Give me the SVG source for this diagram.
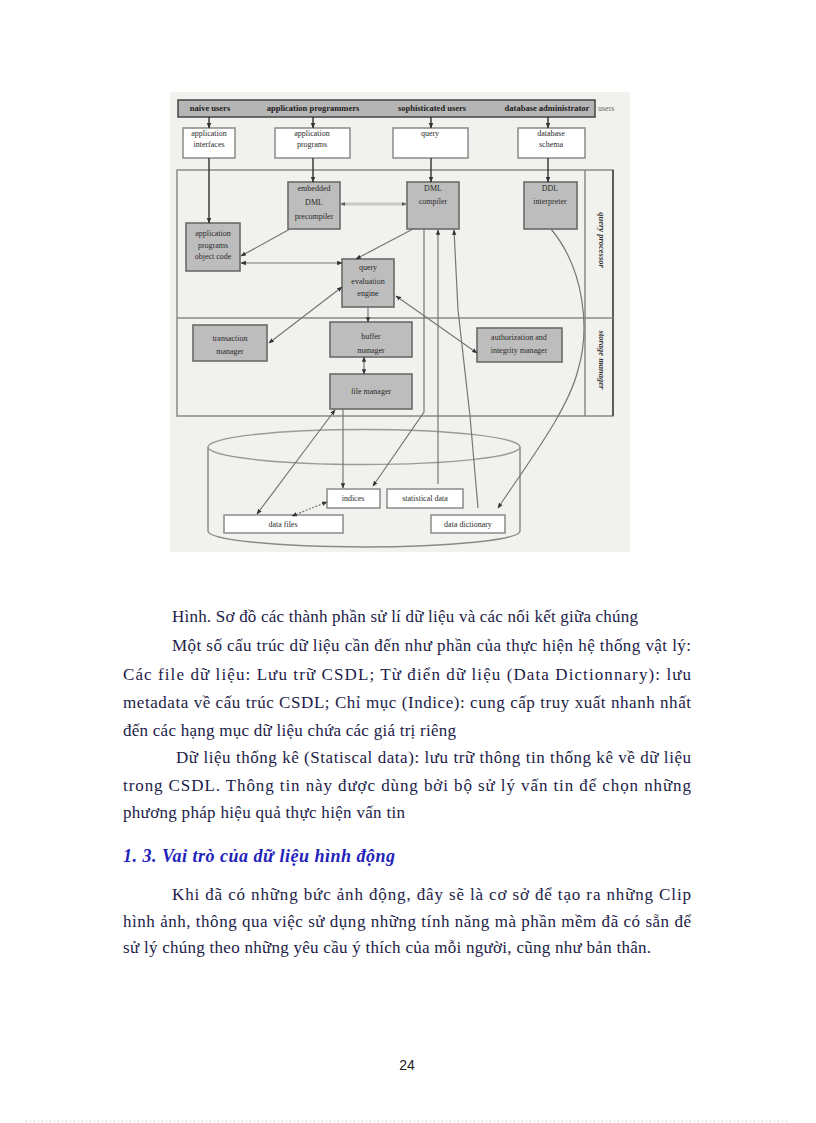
<svg xmlns="http://www.w3.org/2000/svg" width="816" height="1123" viewBox="0 0 816 1123">
<style>
.lbl{font-family:"Liberation Serif",serif;font-size:8px;fill:#2a2a2a;text-anchor:middle}
.bar{font-family:"Liberation Serif",serif;font-size:8.5px;font-weight:bold;fill:#222;text-anchor:middle}
.side{font-family:"Liberation Serif",serif;font-size:8.5px;font-weight:bold;font-style:italic;fill:#333;text-anchor:middle}
.wbox{fill:#ffffff;stroke:#8a8a8a;stroke-width:1.5}
.gbox{fill:#bdbdbd;stroke:#6a6a6a;stroke-width:1.6}
.dk{fill:none;stroke:#222;stroke-width:1.3}
.cn{fill:none;stroke:#777;stroke-width:1.2}
.body{font-family:"Liberation Serif","Times New Roman",serif;font-size:17px;fill:#1c1c48}
.head{font-family:"Liberation Serif","Times New Roman",serif;font-size:18px;font-weight:bold;font-style:italic;fill:#2222bb}
</style>
<defs>
<marker id="ah" viewBox="0 0 10 10" refX="9" refY="5" markerWidth="4.5" markerHeight="4.5" orient="auto-start-reverse"><path d="M0,1 L10,5 L0,9 z" fill="#333"/></marker>
<marker id="sm" viewBox="0 0 10 10" refX="9" refY="5" markerWidth="1.6" markerHeight="1.6" orient="auto-start-reverse"><path d="M0,1 L10,5 L0,9 z" fill="#555"/></marker>
</defs>
<rect x="0" y="0" width="816" height="1123" fill="#ffffff"/>
<rect x="170" y="92" width="460" height="460" fill="#f1f2ee"/>

<g id="users-bar">
<rect x="178" y="100" width="417" height="17" fill="#b5b5b5" stroke="#444" stroke-width="1.5"/>
<text class="bar" x="210" y="111">naive users</text>
<text class="bar" x="313" y="111">application programmers</text>
<text class="bar" x="432" y="111">sophisticated users</text>
<text class="bar" x="547" y="111">database administrator</text>
<text x="598" y="111" style="font-family:'Liberation Serif',serif;font-size:8px;fill:#666">users</text>
</g>

<g id="app-interfaces"><rect class="wbox" x="183" y="128" width="52" height="30"/><text class="lbl" x="209" y="136">application</text><text class="lbl" x="209" y="147">interfaces</text></g>
<g id="app-programs"><rect class="wbox" x="275" y="128" width="75" height="30"/><text class="lbl" x="312" y="136">application</text><text class="lbl" x="312" y="147">programs</text></g>
<g id="query"><rect class="wbox" x="393" y="128" width="75" height="30"/><text class="lbl" x="430" y="136">query</text></g>
<g id="db-schema"><rect class="wbox" x="518" y="128" width="67" height="30"/><text class="lbl" x="551" y="136">database</text><text class="lbl" x="551" y="147">schema</text></g>

<g id="frame">
<rect x="177" y="170" width="436" height="246" fill="none" stroke="#8a8a8a" stroke-width="1.5"/>
<line x1="613" y1="170" x2="613" y2="416" stroke="#555" stroke-width="1.8"/>
<line x1="585" y1="170" x2="585" y2="416" stroke="#8a8a8a" stroke-width="1.5"/>
<line x1="177" y1="318" x2="613" y2="318" stroke="#8a8a8a" stroke-width="1.5"/>
<text class="side" transform="translate(599,240) rotate(90)">query processor</text>
<text class="side" transform="translate(599,360) rotate(90)">storage manager</text>
</g>

<g id="embedded-dml"><rect class="gbox" x="288" y="182" width="52" height="47"/><text class="lbl" x="314" y="191">embedded</text><text class="lbl" x="314" y="205">DML</text><text class="lbl" x="314" y="219">precompiler</text></g>
<g id="dml-compiler"><rect class="gbox" x="407" y="182" width="52" height="47"/><text class="lbl" x="433" y="191">DML</text><text class="lbl" x="433" y="204">compiler</text></g>
<g id="ddl-interpreter"><rect class="gbox" x="524" y="182" width="53" height="47"/><text class="lbl" x="550" y="191">DDL</text><text class="lbl" x="550" y="204">interpreter</text></g>
<g id="object-code"><rect class="gbox" x="186" y="223" width="54" height="48"/><text class="lbl" x="213" y="236">application</text><text class="lbl" x="213" y="248">programs</text><text class="lbl" x="213" y="259">object code</text></g>
<g id="query-eval"><rect class="gbox" x="342" y="259" width="52" height="48"/><text class="lbl" x="368" y="270">query</text><text class="lbl" x="368" y="284">evaluation</text><text class="lbl" x="368" y="296">engine</text></g>
<g id="transaction-manager"><rect class="gbox" x="193" y="325" width="74" height="36"/><text class="lbl" x="230" y="341">transaction</text><text class="lbl" x="230" y="354">manager</text></g>
<g id="buffer-manager"><rect class="gbox" x="330" y="322" width="82" height="35"/><text class="lbl" x="371" y="339">buffer</text><text class="lbl" x="371" y="353">manager</text></g>
<g id="auth-manager"><rect class="gbox" x="477" y="328" width="85" height="34"/><text class="lbl" x="519" y="340">authorization and</text><text class="lbl" x="519" y="353">integrity manager</text></g>
<g id="file-manager"><rect class="gbox" x="330" y="374" width="82" height="35"/><text class="lbl" x="371" y="394">file manager</text></g>

<g id="database">
<path d="M208,447 V531 A156,16 0 0 0 520,531 V447" fill="none" stroke="#8a8a8a" stroke-width="1.5"/>
<ellipse cx="364" cy="447" rx="156" ry="17.5" fill="none" stroke="#9a9a9a" stroke-width="1.5"/>
</g>
<g id="indices"><rect class="wbox" x="327" y="489" width="53" height="19"/><text class="lbl" x="353" y="501">indices</text></g>
<g id="statistical-data"><rect class="wbox" x="387" y="489" width="76" height="19"/><text class="lbl" x="425" y="501">statistical data</text></g>
<g id="data-files"><rect class="wbox" x="224" y="515" width="119" height="18"/><text class="lbl" x="283" y="527">data files</text></g>
<g id="data-dictionary"><rect class="wbox" x="431" y="515" width="74" height="18"/><text class="lbl" x="468" y="527">data dictionary</text></g>

<g id="connectors">
<path class="dk" d="M209,117 V128" marker-end="url(#ah)"/>
<path class="dk" d="M313,117 V128" marker-end="url(#ah)"/>
<path class="dk" d="M431,117 V128" marker-end="url(#ah)"/>
<path class="dk" d="M548,117 V128" marker-end="url(#ah)"/>
<path class="dk" d="M209,158 V223" marker-end="url(#ah)"/>
<path class="dk" d="M313,158 V182" marker-end="url(#ah)"/>
<path class="dk" d="M431,158 V182" marker-end="url(#ah)"/>
<path class="dk" d="M548,158 V182" marker-end="url(#ah)"/>
<path d="M341,204 H406" fill="none" stroke="#c8c8c8" stroke-width="3" marker-start="url(#sm)" marker-end="url(#sm)"/>
<path class="cn" d="M290,229 L241,256" marker-end="url(#ah)"/>
<path class="cn" d="M413,229 L356,259" marker-end="url(#ah)"/>
<path class="cn" d="M241,263 H342" marker-start="url(#ah)" marker-end="url(#ah)"/>
<path class="cn" d="M342,287 L269,343" marker-start="url(#ah)" marker-end="url(#ah)"/>
<path class="cn" d="M368,307 V322" marker-end="url(#ah)"/>
<path class="cn" d="M364,357 V374" marker-start="url(#ah)" marker-end="url(#ah)"/>
<path class="cn" d="M396,296 L477,353" marker-start="url(#ah)" marker-end="url(#ah)"/>
<path class="cn" d="M335,410 L257,514" marker-start="url(#ah)" marker-end="url(#ah)"/>
<path class="cn" d="M343,409 V488" marker-end="url(#ah)"/>
<path class="cn" d="M327,502 L292,516" stroke-dasharray="2,1.5" marker-start="url(#ah)" marker-end="url(#ah)"/>
<path class="cn" d="M424,229 V412 L373,486" marker-end="url(#ah)"/>
<path class="cn" d="M438,484 V230" marker-end="url(#ah)"/>
<path class="cn" d="M478,508 L470,416 L458,310 L454,230" marker-end="url(#ah)"/>
<path class="cn" d="M551,229 C585,270 590,330 578,370 C568,410 530,460 498,508" marker-end="url(#ah)"/>
</g>

<g id="page-text">
<text class="body" x="172" y="622" textLength="466" lengthAdjust="spacing">Hình. Sơ đồ các thành phần sử lí dữ liệu và các nối kết giữa chúng</text>
<text class="body" x="172" y="651" textLength="519" lengthAdjust="spacing">Một số cấu trúc dữ liệu cần đến như phần của thực hiện hệ thống vật lý:</text>
<text class="body" x="123" y="680" textLength="568" lengthAdjust="spacing">Các file dữ liệu: Lưu trữ CSDL; Từ điển dữ liệu (Data Dictionnary): lưu</text>
<text class="body" x="123" y="708" textLength="568" lengthAdjust="spacing">metadata về cấu trúc CSDL; Chỉ mục (Indice): cung cấp truy xuất nhanh nhất</text>
<text class="body" x="123" y="736" textLength="333" lengthAdjust="spacing">đến các hạng mục dữ liệu chứa các giá trị riêng</text>
<text class="body" x="176" y="763" textLength="515" lengthAdjust="spacing">Dữ liệu thống kê (Statiscal data): lưu trữ thông tin thống kê về dữ liệu</text>
<text class="body" x="123" y="791" textLength="568" lengthAdjust="spacing">trong CSDL. Thông tin này được dùng bởi bộ sử lý vấn tin để chọn những</text>
<text class="body" x="123" y="818" textLength="282" lengthAdjust="spacing">phương pháp hiệu quả thực hiện vấn tin</text>
<text class="head" x="123" y="862" textLength="272" lengthAdjust="spacing">1. 3. Vai trò của dữ liệu hình động</text>
<text class="body" x="172" y="900" textLength="519" lengthAdjust="spacing">Khi đã có những bức ảnh động, đây sẽ là cơ sở để tạo ra những Clip</text>
<text class="body" x="123" y="927" textLength="568" lengthAdjust="spacing">hình ảnh, thông qua việc sử dụng những tính năng mà phần mềm đã có sẵn để</text>
<text class="body" x="123" y="953" textLength="528" lengthAdjust="spacing">sử lý chúng theo những yêu cầu ý thích của mỗi người, cũng như bản thân.</text>
<text x="407" y="1070" text-anchor="middle" style="font-family:'Liberation Sans',Arial,sans-serif;font-size:14px;fill:#222">24</text>
</g>
<line x1="26" y1="1121" x2="790" y2="1121" stroke="#bbbbbb" stroke-width="1" stroke-dasharray="1,3"/>
</svg>
